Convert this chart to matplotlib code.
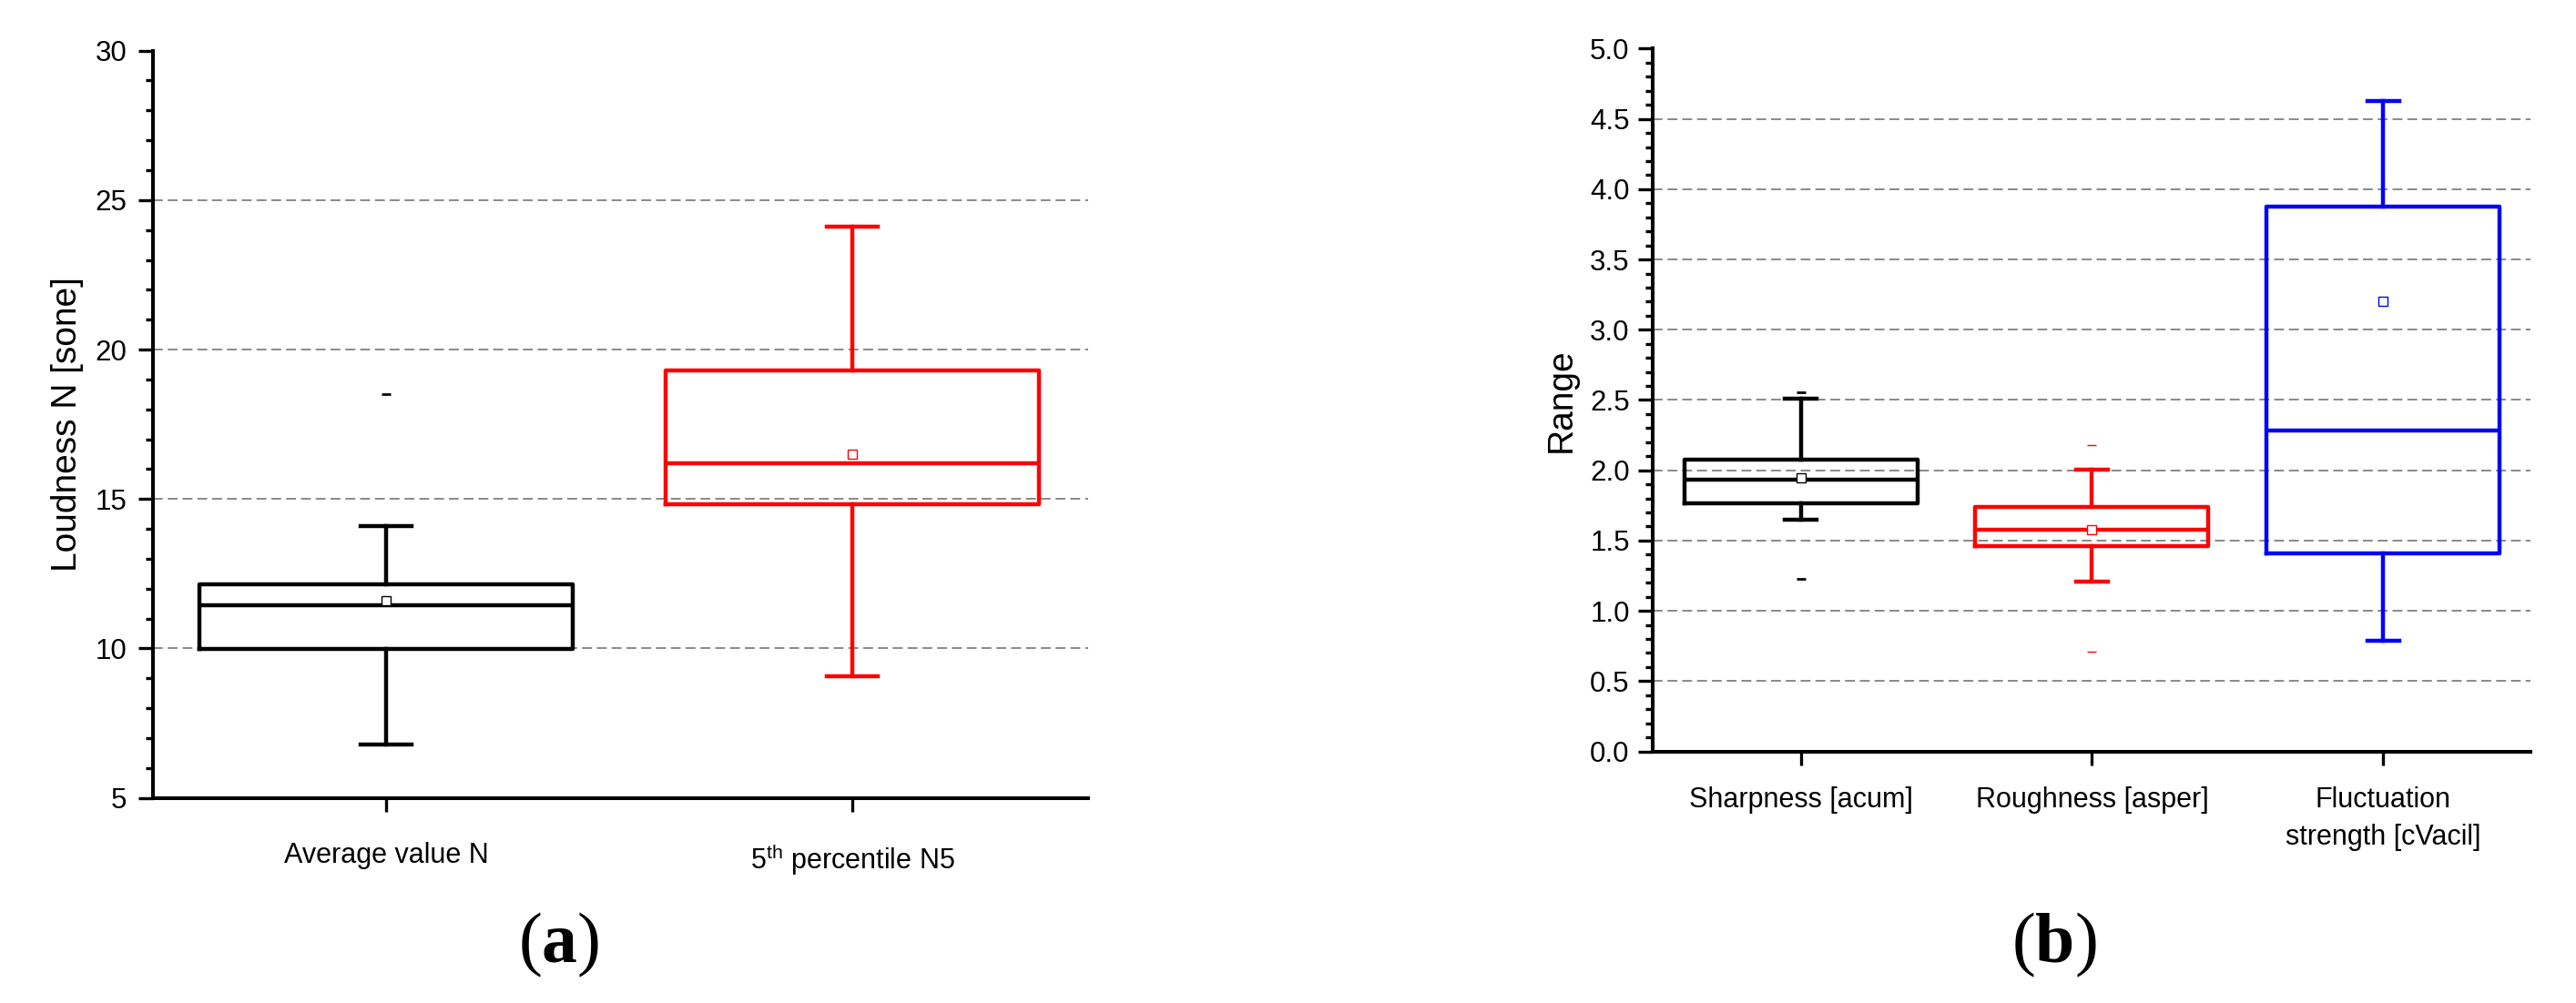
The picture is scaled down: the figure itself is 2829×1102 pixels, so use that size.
import matplotlib
matplotlib.use("Agg")
import matplotlib.pyplot as plt
from matplotlib.ticker import MultipleLocator, FormatStrFormatter
import numpy as np

plt.rcParams['font.family'] = ['Liberation Sans', 'DejaVu Sans']
plt.rcParams['mathtext.fontset'] = 'custom'
plt.rcParams['mathtext.rm'] = 'Liberation Sans'
plt.rcParams['mathtext.it'] = 'Liberation Sans:italic'
plt.rcParams['mathtext.bf'] = 'Liberation Serif:bold'

# ---------------- data (a) ----------------
left_categories = ["Average value N", r"5$^{\mathrm{th}}$ percentile N5"]
left_colors = ["#000000", "#FF0000"]
left_whislo = [6.78, 9.06]
left_q1 = [9.98, 14.83]
left_med = [11.45, 16.19]
left_q3 = [12.15, 19.30]
left_whishi = [14.09, 24.11]
left_mean = [11.59, 16.50]
left_fliers = [[18.5], []]
left_yticks = [5, 10, 15, 20, 25, 30]

# ---------------- data (b) ----------------
right_categories = ["Sharpness [acum]", "Roughness [asper]", "Fluctuation\nstrength [cVacil]"]
right_colors = ["#000000", "#FF0000", "#0000FF"]
right_whislo = [1.651, 1.21, 0.788]
right_q1 = [1.768, 1.459, 1.409]
right_med = [1.935, 1.574, 2.283]
right_q3 = [2.074, 1.742, 3.874]
right_whishi = [2.511, 2.002, 4.628]
right_mean = [1.946, 1.574, 3.204]
right_fliers = [[2.552, 1.225], [2.182, 0.712], []]
right_yticks = [0.0, 0.5, 1.0, 1.5, 2.0, 2.5, 3.0, 3.5, 4.0, 4.5, 5.0]

fig = plt.figure(figsize=(28.29, 11.02), dpi=100)
axL = fig.add_axes([0.0594, 0.2045, 0.3630, 0.7450])
axR = fig.add_axes([0.6417, 0.2509, 0.3408, 0.7006])

BOX_LW = 3.2
SPINE_LW = 2.9


def draw_panel(ax, cats, colors, whislo, q1, med, q3, whishi, mean, fliers,
               yticks, minor, fmt, xlim, flier_mew, ypad, xpad):
    for i in range(len(cats)):
        st = [dict(whislo=whislo[i], q1=q1[i], med=med[i], q3=q3[i],
                   whishi=whishi[i], mean=mean[i], fliers=fliers[i])]
        c = colors[i]
        ax.bxp(st, positions=[i + 1], widths=0.8, capwidths=0.11,
               showmeans=True, showfliers=True, manage_ticks=False,
               boxprops=dict(color=c, linewidth=BOX_LW),
               medianprops=dict(color=c, linewidth=BOX_LW),
               whiskerprops=dict(color=c, linewidth=BOX_LW),
               capprops=dict(color=c, linewidth=BOX_LW),
               meanprops=dict(marker='s', markerfacecolor='white',
                              markeredgecolor=c, markersize=6.5,
                              markeredgewidth=1.0),
               flierprops=dict(marker='_', markeredgecolor=c,
                               markersize=7.5, markeredgewidth=flier_mew[i]))
    ax.set_xlim(*xlim)
    ax.set_ylim(yticks[0], yticks[-1])
    ax.set_xticks(range(1, len(cats) + 1))
    ax.set_xticklabels(cats, fontsize=22, linespacing=1.45)
    ax.set_yticks(yticks)
    ax.yaxis.set_minor_locator(MultipleLocator(minor))
    if fmt:
        ax.yaxis.set_major_formatter(FormatStrFormatter(fmt))
    for yv in yticks[1:-1]:
        ax.axhline(yv, color='#808080', linewidth=1.3,
                   linestyle=(0, (6, 3)), zorder=0.5)
    for s in ['top', 'right']:
        ax.spines[s].set_visible(False)
    for s in ['left', 'bottom']:
        ax.spines[s].set_linewidth(SPINE_LW)
    ax.tick_params(axis='y', which='major', direction='out', length=11.5,
                   width=2.4, labelsize=22.5, pad=ypad)
    ax.tick_params(axis='y', which='minor', direction='out', length=5.5,
                   width=2.4)
    ax.tick_params(axis='x', which='major', direction='out', length=11,
                   width=2.4, pad=xpad)


draw_panel(axL, left_categories, left_colors, left_whislo, left_q1, left_med,
           left_q3, left_whishi, left_mean, left_fliers, left_yticks, 1,
           None, (0.5, 2.505), [2.0, 1.0], 9, 24)
axL.set_ylabel("Loudness N [sone]", fontsize=28)
axL.yaxis.set_label_coords(-0.074, 0.5)

draw_panel(axR, right_categories, right_colors, right_whislo, right_q1,
           right_med, right_q3, right_whishi, right_mean, right_fliers,
           right_yticks, 0.1, '%.1f', (0.493, 3.507), [2.0, 1.0, 1.0], 7, 17)
axR.set_ylabel("Range", fontsize=28)
axR.yaxis.set_label_coords(-0.0856, 0.5)

fig.text(614 / 2829, 1 - 1038 / 1102, r"($\mathbf{a}$)", fontsize=56,
         family='Liberation Serif', ha='center', va='center')
fig.text(2256 / 2829, 1 - 1038 / 1102, r"($\mathbf{b}$)", fontsize=56,
         family='Liberation Serif', ha='center', va='center')

fig.savefig("out.png", dpi=100)
